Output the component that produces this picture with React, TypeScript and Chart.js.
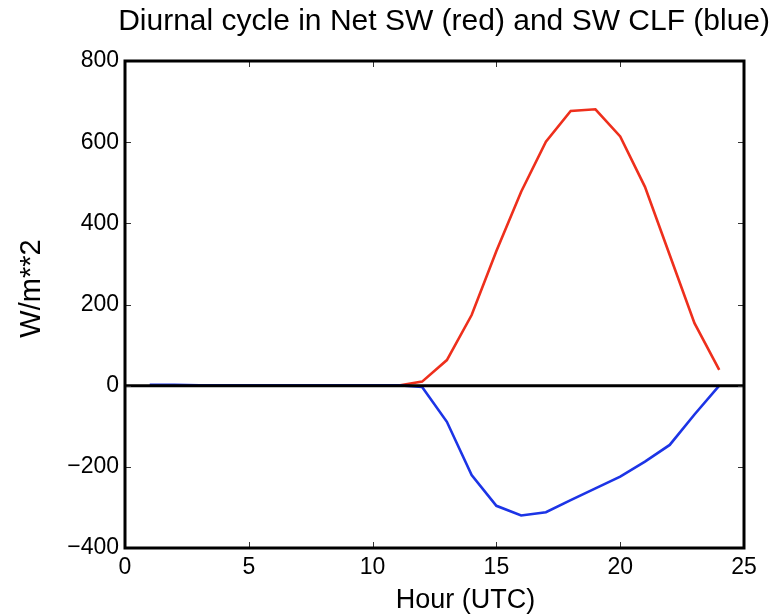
import React, { useEffect, useRef } from "react";
import { Chart, registerables } from "chart.js";

Chart.register(...registerables);

// ---- data ----
const hours = [1, 2, 3, 4, 5, 6, 7, 8, 9, 10, 11, 12, 13, 14, 15, 16, 17, 18, 19, 20, 21, 22, 23, 24];
const netSW = [0, 0, 0, 0, 0, 0, 0, 0, 0, 0, 0, 10, 63, 174, 332, 478, 601, 677, 681, 614, 490, 322, 154, 39];
const swCLF = [2, 2, 1, 1, 1, 1, 1, 1, 1, 1, 1, -3, -89, -220, -296, -320, -312, -282, -253, -224, -187, -146, -71, 0];
const zeroLineX = [0, 25];
const zeroLineY = [0, 0];
const xTickStep = 5;
const yTickStep = 200;
const xRange = [0, 25];
const yRange = [-400, 800];

const TITLE = "Diurnal cycle in Net SW (red) and SW CLF (blue)";
const X_LABEL = "Hour (UTC)";
const Y_LABEL = "W/m**2";
const FONT = "'Liberation Sans', Arial, Helvetica, sans-serif";

const framePlugin = {
  id: "frameAndLabels",
  afterDatasetsDraw(chart: any) {
    const { ctx, chartArea, scales } = chart;
    const { left, right, top, bottom } = chartArea;
    const x = scales.x;
    const y = scales.y;
    ctx.save();
    // inward tick marks on all four sides
    ctx.strokeStyle = "#333";
    ctx.lineWidth = 1;
    ctx.beginPath();
    x.ticks.forEach((t: any) => {
      const px = Math.round(x.getPixelForValue(t.value)) + 0.5;
      ctx.moveTo(px, bottom);
      ctx.lineTo(px, bottom - 6);
      ctx.moveTo(px, top);
      ctx.lineTo(px, top + 6);
    });
    y.ticks.forEach((t: any) => {
      const py = Math.round(y.getPixelForValue(t.value)) + 0.5;
      ctx.moveTo(left, py);
      ctx.lineTo(left + 6, py);
      ctx.moveTo(right, py);
      ctx.lineTo(right - 6, py);
    });
    ctx.stroke();
    // frame
    ctx.strokeStyle = "#000";
    ctx.lineWidth = 3;
    ctx.strokeRect(left, top, right - left, bottom - top);
    // axis titles
    ctx.fillStyle = "#000";
    ctx.font = `27px ${FONT}`;
    ctx.textAlign = "center";
    ctx.textBaseline = "alphabetic";
    ctx.fillText(X_LABEL, (left + right) / 2 + 31, 608);
    ctx.translate(32, (top + bottom) / 2 - 16);
    ctx.rotate(-Math.PI / 2);
    ctx.font = `29px ${FONT}`;
    ctx.textBaseline = "middle";
    ctx.fillText(Y_LABEL, 0, 0);
    ctx.restore();
  },
};

function fmt(v: number) {
  return v < 0 ? "\u2212" + Math.abs(v) : String(v);
}

export default function App() {
  const ref = useRef<HTMLCanvasElement | null>(null);
  useEffect(() => {
    if (!ref.current) return;
    const chart = new Chart(ref.current, {
      type: "line",
      data: {
        datasets: [
          {
            label: "zero",
            data: zeroLineX.map((v, i) => ({ x: v, y: zeroLineY[i] })),
            borderColor: "#000",
            borderWidth: 3,
            pointRadius: 0,
            order: 0,
          },
          {
            label: "SW CLF",
            data: hours.map((h, i) => ({ x: h, y: swCLF[i] })),
            borderColor: "#1c34e6",
            borderWidth: 2.6,
            pointRadius: 0,
            tension: 0,
            order: 1,
          },
          {
            label: "Net SW",
            data: hours.map((h, i) => ({ x: h, y: netSW[i] })),
            borderColor: "#ee2f1c",
            borderWidth: 2.6,
            pointRadius: 0,
            tension: 0,
            order: 2,
          },
        ],
      },
      options: {
        responsive: false,
        animation: false,
        layout: { padding: { left: 0, right: 12, top: 0, bottom: 0 } },
        plugins: {
          legend: { display: false },
          tooltip: { enabled: false },
          title: {
            display: true,
            text: TITLE,
            align: "end",
            color: "#000",
            font: { family: FONT, size: 30, weight: "normal" },
            padding: { top: 4, bottom: 21 },
          },
        },
        scales: {
          x: {
            type: "linear",
            position: "bottom",
            min: xRange[0],
            max: xRange[1],
            ticks: {
              stepSize: xTickStep,
              color: "#000",
              font: { family: FONT, size: 23 },
              padding: 6,
              maxRotation: 0,
              callback: (v: any) => fmt(Number(v)),
            },
            grid: { display: false, drawTicks: false },
            border: { display: false },
            afterFit: (s: any) => {
              s.height = 66;
            },
          },
          y: {
            type: "linear",
            position: "left",
            min: yRange[0],
            max: yRange[1],
            ticks: {
              stepSize: yTickStep,
              color: "#000",
              font: { family: FONT, size: 23 },
              padding: 6,
              callback: (v: any) => fmt(Number(v)),
            },
            grid: { display: false, drawTicks: false },
            border: { display: false },
            afterFit: (s: any) => {
              s.width = 125;
            },
          },
          y2: {
            type: "linear",
            position: "right",
            min: yRange[0],
            max: yRange[1],
            ticks: { display: false },
            grid: { display: false, drawTicks: false },
            border: { display: false },
            afterFit: (s: any) => {
              s.width = 26;
            },
          },
        },
      },
      plugins: [framePlugin],
    } as any);
    return () => chart.destroy();
  }, []);
  return (
    <div style={{ position: "absolute", left: 0, top: 0, width: 782, height: 614, background: "#fff" }}>
      <canvas ref={ref} width={782} height={614} style={{ display: "block" }} />
    </div>
  );
}
